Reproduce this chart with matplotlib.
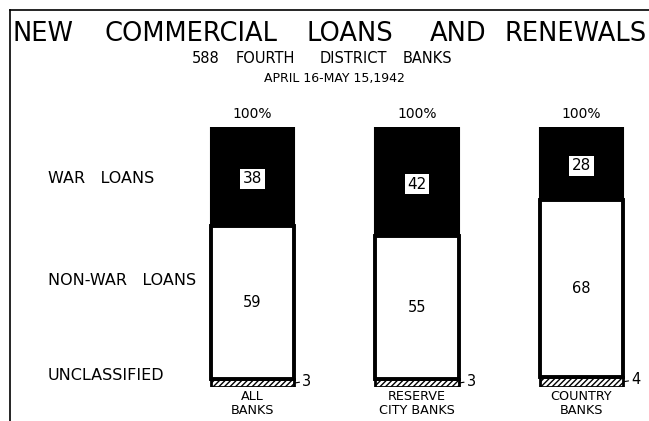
import matplotlib.pyplot as plt
from matplotlib.lines import Line2D

# shares of new commercial loans and renewals, percent
groups = ["ALL\nBANKS", "RESERVE\nCITY BANKS", "COUNTRY\nBANKS"]
war_loans = [38, 42, 28]
non_war_loans = [59, 55, 68]
unclassified = [3, 3, 4]
row_labels = ["WAR   LOANS", "NON-WAR   LOANS", "UNCLASSIFIED"]
title_words = ["NEW", "COMMERCIAL", "LOANS", "AND", "RENEWALS"]
subtitle_words = ["588", "FOURTH", "DISTRICT", "BANKS"]

W, H = 649, 421


def fx(px):
    return px / W


def fy(py):
    return 1 - py / H


fig = plt.figure(figsize=(6.49, 4.21), dpi=100)
fig.patch.set_facecolor("white")

# frame lines (left and top only)
fig.add_artist(Line2D([fx(10), fx(10)], [fy(10), 0], color="black", lw=1.2))
fig.add_artist(Line2D([fx(10), 1], [fy(10), fy(10)], color="black", lw=1.2))

# title words spread across the full width, last one flush right
for word, cx in zip(title_words[:-1], [43, 191, 350, 458]):
    fig.text(fx(cx), fy(41), word, ha="center", va="baseline", fontsize=18.5)
fig.text(fx(647), fy(41), title_words[-1], ha="right", va="baseline",
         fontsize=18.5)
for word, cx in zip(subtitle_words, [206, 265, 353, 427]):
    fig.text(fx(cx), fy(63), word, ha="center", va="baseline", fontsize=10.5)
fig.text(fx(334), fy(82), "APRIL 16-MAY 15,1942",
         ha="center", va="baseline", fontsize=9)

for lab, py in zip(row_labels, [183, 285, 380]):
    fig.text(fx(48), fy(py), lab, ha="left", va="baseline", fontsize=11.5)

# bar axes: y 0..100 maps to pixel rows 387..127
ax = fig.add_axes([0, fy(387), 1, (387 - 127) / H])
ax.set_xlim(-1.535, 2.410)
ax.set_ylim(0, 100)
ax.axis("off")

x = range(len(groups))
width = 0.505
ax.bar(x, unclassified, width, color="white", edgecolor="black",
       hatch="//////", linewidth=2.0)
bottom2 = unclassified
ax.bar(x, non_war_loans, width, bottom=bottom2, color="white",
       edgecolor="black", linewidth=2.8)
bottom3 = [a + b for a, b in zip(unclassified, non_war_loans)]
ax.bar(x, war_loans, width, bottom=bottom3, color="black",
       edgecolor="black", linewidth=1.5)

for i in x:
    top = bottom3[i] + war_loans[i]
    ax.text(i, top + 2.3, f"{top}%", ha="center", va="bottom", fontsize=10)
    ax.text(i, bottom3[i] + war_loans[i] / 2 - 1, str(war_loans[i]),
            ha="center", va="center", fontsize=11,
            bbox=dict(facecolor="white", edgecolor="none", pad=1.8))
    ax.text(i, bottom2[i] + non_war_loans[i] / 2, str(non_war_loans[i]),
            ha="center", va="center", fontsize=10.5)
    ax.annotate(str(unclassified[i]), xy=(i + width / 2, unclassified[i] / 2),
                xytext=(i + width / 2 + 0.05, unclassified[i] / 2 + 0.8),
                ha="left", va="center", fontsize=10.5,
                arrowprops=dict(arrowstyle="-", lw=0.8, color="black",
                                shrinkA=0, shrinkB=0))
    ax.text(i, -1.2, groups[i], ha="center", va="top", fontsize=9.2,
            linespacing=1.05)

fig.savefig("out.png", dpi=100)
